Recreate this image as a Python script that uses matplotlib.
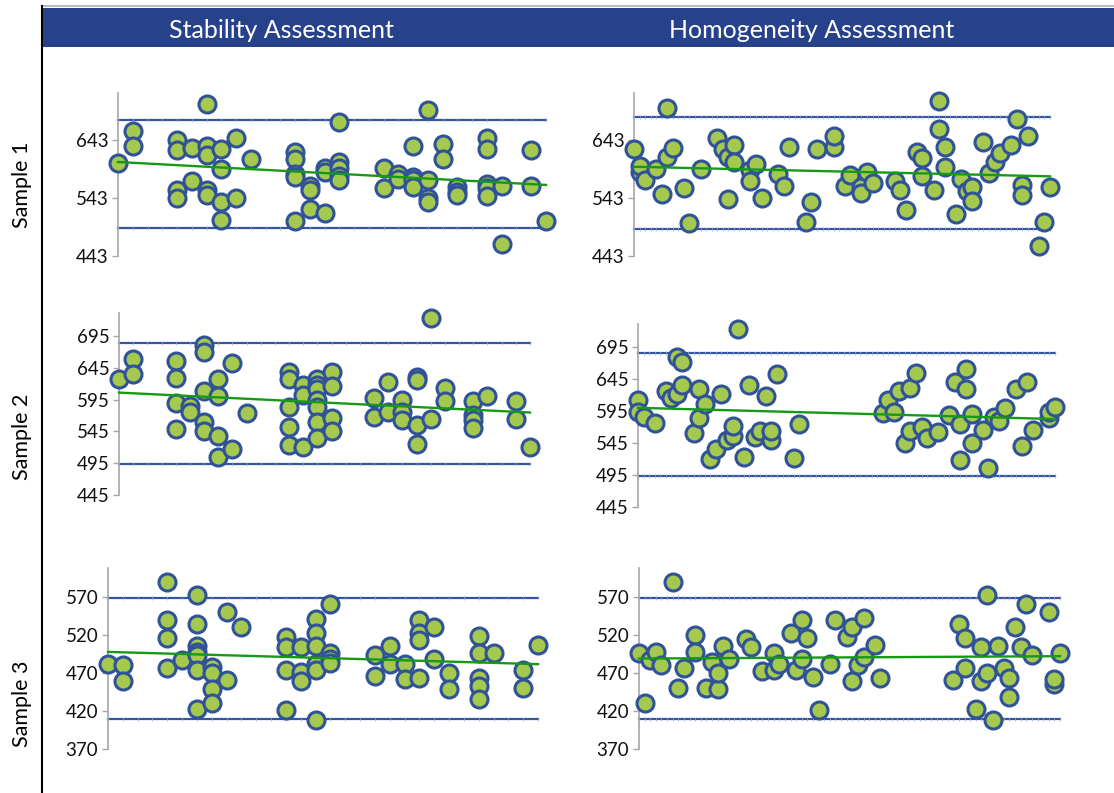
import matplotlib
matplotlib.use('Agg')
import matplotlib.pyplot as plt
import numpy as np
from matplotlib.patches import Rectangle
from matplotlib.lines import Line2D

plt.rcParams['font.family'] = ['Lato', 'DejaVu Sans']

# ---- data ----
# left column (stability): x position -> list of results at that position
stab1_x = [0, 1, 4, 5, 6, 7, 8, 9, 12, 13, 14, 15, 18, 19, 20, 21, 22, 23, 25, 26, 28, 29]
stab1_y = [[602], [657, 632], [643, 625, 556, 542], [628, 572], [704, 632, 616, 556, 547],
           [626, 592, 535, 504], [646, 542], [610], [622, 609, 584, 578, 503], [564, 556, 523],
           [595, 587, 517], [674, 605, 595, 581, 573], [595, 560], [584, 576],
           [632, 578, 573, 562], [694, 573, 542, 536], [636, 610], [562, 553, 547],
           [646, 627, 567, 559, 546], [564, 463], [625, 564], [503]]

stab2_x = stab1_x
stab2_y = [[628], [658, 635], [656, 629, 589, 548], [585, 575], [681, 669, 608, 560, 545],
           [627, 600, 538, 504], [652, 518], [574], [639, 627, 584, 552, 524], [618, 602, 520],
           [627, 618, 611, 594, 584, 560, 534], [639, 616, 566, 545], [597, 568], [623, 576],
           [594, 576, 563], [630, 625, 555, 525], [723, 564], [613, 592],
           [592, 571, 563, 550], [600], [592, 564], [521]]

stab3_x = stab1_x
stab3_y = [[482], [481, 459], [590, 539, 516, 476], [487], [572, 534, 506, 498, 493, 474, 422],
           [478, 470, 449, 431], [550, 461], [531], [517, 504, 474, 421], [504, 471, 460],
           [541, 522, 506, 482, 474, 408], [561, 496, 488, 483], [494, 466], [506, 482],
           [482, 462], [539, 522, 513, 463], [531, 488], [470, 449],
           [519, 496, 463, 453, 436], [496], [474, 450], [507]]

# right column (homogeneity): one point per pair
homo1_x = [0, 1, 1, 2, 4, 5, 6, 6, 7, 9, 10, 12, 15, 16, 17, 17, 18, 18, 21, 21, 22, 23,
           26, 27, 28, 31, 32, 33, 36, 36, 38, 39, 41, 41, 42, 43, 47, 48, 49, 51, 52, 52,
           54, 55, 55, 56, 56, 58, 59, 60, 61, 61, 63, 64, 65, 66, 68, 69, 70, 70, 71, 73, 74, 75]
homo1_y = [626, 588, 597, 574, 592, 549, 613, 698, 629, 559, 500, 592, 646, 626, 613, 541, 633, 604,
           590, 572, 601, 542, 584, 563, 630, 501, 535, 626, 630, 649, 564, 582, 561, 552, 588, 568,
           572, 557, 522, 622, 611, 581, 557, 709, 661, 630, 596, 515, 575, 555, 561, 538, 639, 586,
           604, 620, 634, 678, 565, 548, 649, 461, 501, 562]

homo2_x = [0, 0, 1, 3, 5, 6, 7, 7, 8, 8, 10, 11, 11, 12, 13, 14, 15, 16, 17, 17, 18, 19, 20, 21,
           22, 23, 24, 24, 25, 28, 29, 44, 45, 46, 47, 48, 49, 49, 50, 51, 52, 54, 56, 57, 58, 58,
           59, 59, 60, 60, 62, 63, 64, 65, 66, 68, 69, 70, 71, 74, 74, 75]
homo2_y = [613, 593, 586, 576, 626, 615, 622, 680, 671, 636, 560, 629, 584, 606, 520, 535, 622, 550,
           556, 571, 723, 523, 635, 555, 564, 618, 550, 563, 653, 522, 575, 592, 613, 593, 627, 545,
           631, 563, 655, 570, 553, 562, 589, 640, 575, 518, 661, 629, 591, 545, 566, 506, 586, 579,
           600, 629, 540, 640, 565, 584, 593, 601]

homo3_x = [0, 1, 2, 3, 4, 6, 7, 8, 10, 10, 12, 13, 14, 14, 15, 16, 19, 20, 22, 24, 24, 25, 27,
           28, 29, 29, 30, 31, 32, 34, 35, 37, 38, 38, 39, 40, 40, 42, 43, 56, 57, 58, 58, 60, 61,
           61, 62, 62, 63, 64, 65, 66, 66, 67, 68, 69, 70, 73, 74, 74, 75]
homo3_y = [496, 431, 487, 497, 481, 589, 450, 477, 520, 497, 450, 485, 449, 470, 506, 488, 515, 504,
           472, 496, 474, 482, 522, 474, 540, 488, 516, 465, 421, 482, 540, 517, 531, 460, 481, 542,
           491, 507, 463, 461, 535, 516, 477, 423, 504, 460, 572, 470, 408, 506, 477, 463, 438, 531,
           504, 561, 494, 550, 456, 462, 496]

# control limits (upper, lower)
limits_s1 = (677, 491)
limits_h1 = (681, 490)
limits_s2 = (684, 494)
limits_h2 = (686, 494)
limits_s3 = (569, 410)
limits_h3 = (569, 410)

col_titles = ['Stability Assessment', 'Homogeneity Assessment']
row_titles = ['Sample 1', 'Sample 2', 'Sample 3']

W, H = 1114, 793
fig = plt.figure(figsize=(W / 100, H / 100), dpi=100)

BLUE = '#27428A'
EDGE = '#2F5299'
FACE = '#A5C94E'
GREEN = '#169A16'
LIMIT = '#3555A0'


def px_axes(left, right, top, bottom):
    return fig.add_axes([left / W, 1 - bottom / H, (right - left) / W, (bottom - top) / H])


def flatten(xs, ys):
    fx, fy = [], []
    for x, vals in zip(xs, ys):
        for v in vals:
            fx.append(x)
            fy.append(v)
    return np.array(fx, float), np.array(fy, float)


def draw_panel(box, xs, ys, xmax, ylim, yticks, limits):
    ax = px_axes(*box)
    xs = np.asarray(xs, float)
    ys = np.asarray(ys, float)
    grid = np.arange(xmax + 1)
    for lim in limits:
        ax.plot([0, xmax], [lim, lim], color=LIMIT, lw=1.6, zorder=1, clip_on=False)
        ax.plot(grid, [lim] * len(grid), ls='none', marker='|', ms=3, mew=0.5,
                color='#9AACD2', zorder=1, clip_on=False)
    ax.scatter(xs, ys, s=150, c=FACE, edgecolors=EDGE, linewidths=2.2, zorder=3, clip_on=False)
    k, b = np.polyfit(xs, ys, 1)
    ax.plot([0, xmax], [b, k * xmax + b], color=GREEN, lw=1.7, zorder=4, clip_on=False)
    ax.set_xlim(0, xmax)
    ax.set_ylim(*ylim)
    ax.set_yticks(yticks)
    ax.set_xticks([])
    for s in ['top', 'right', 'bottom']:
        ax.spines[s].set_visible(False)
    ax.spines['left'].set_color('#A6A6A6')
    ax.spines['left'].set_linewidth(1.2)
    ax.tick_params(axis='y', length=4, width=1, color='#A6A6A6', pad=3, labelsize=13.5,
                   labelcolor='#111111')
    ax.patch.set_alpha(0)
    return ax


s1x, s1y = flatten(stab1_x, stab1_y)
s2x, s2y = flatten(stab2_x, stab2_y)
s3x, s3y = flatten(stab3_x, stab3_y)

draw_panel((118, 546, 93, 256), s1x, s1y, 29, (443, 723), [443, 543, 643], limits_s1)
draw_panel((634, 1050, 93, 256), homo1_x, homo1_y, 75, (443, 723), [443, 543, 643], limits_h1)
draw_panel((119, 530, 313, 495), s2x, s2y, 29, (445, 731), [445, 495, 545, 595, 645, 695], limits_s2)
draw_panel((638, 1055, 324, 507), homo2_x, homo2_y, 75, (445, 731), [445, 495, 545, 595, 645, 695], limits_h2)
draw_panel((108, 538, 568, 749), s3x, s3y, 29, (370, 608), [370, 420, 470, 520, 570], limits_s3)
draw_panel((639, 1060, 568, 749), homo3_x, homo3_y, 75, (370, 608), [370, 420, 470, 520, 570], limits_h3)

# header bar, frame lines and labels
fig.patches.append(Rectangle((42 / W, 1 - 47 / H), 1 - 42 / W, 39 / H, transform=fig.transFigure,
                             facecolor=BLUE, edgecolor='none', zorder=0))
fig.lines.append(Line2D([42 / W, 1], [1 - 6 / H, 1 - 6 / H], transform=fig.transFigure,
                        color='#BBBBBB', lw=1.5))
fig.lines.append(Line2D([42 / W, 42 / W], [1 - 6 / H, 0], transform=fig.transFigure,
                        color='black', lw=1.5))
for title, cx in zip(col_titles, [281, 812]):
    fig.text(cx / W, 1 - 30 / H, title, color='white', fontsize=18, ha='center', va='center')
for title, cy in zip(row_titles, [185, 437, 704]):
    fig.text(22 / W, 1 - cy / H, title, color='black', fontsize=15.5, rotation=90,
             ha='center', va='center')

fig.savefig('out.png', dpi=100)
